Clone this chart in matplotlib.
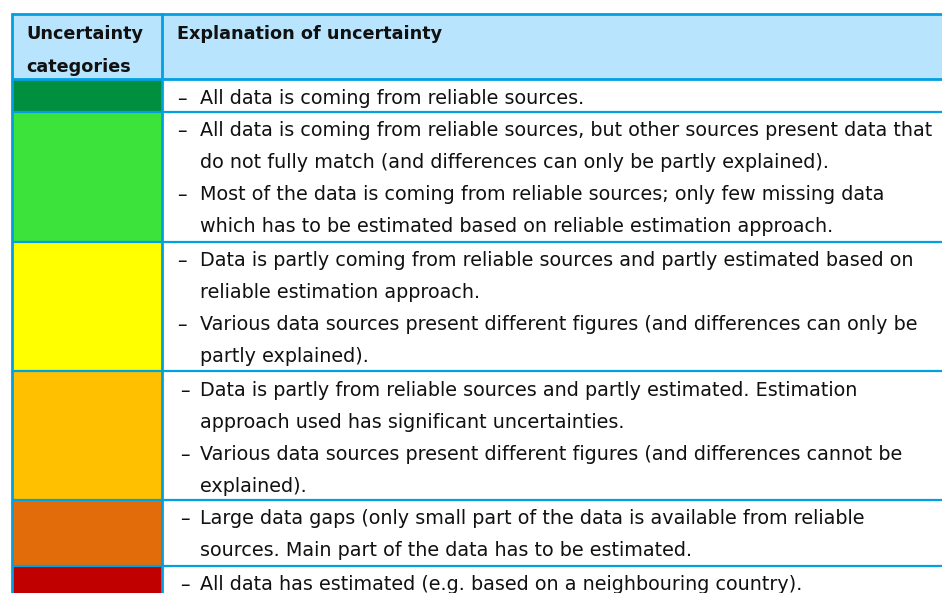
import matplotlib.pyplot as plt
from matplotlib.patches import Rectangle

# table content
header_left = ['Uncertainty', 'categories']
header_right = 'Explanation of uncertainty'

row_colors = ['#008F3E', '#3BE33B', '#FFFF00', '#FFC000', '#E26B0A', '#C00000']

# each row: list of bullets, each bullet is a list of wrapped lines
row_text = [
    [['All data is coming from reliable sources.']],
    [['All data is coming from reliable sources, but other sources present data that',
      'do not fully match (and differences can only be partly explained).'],
     ['Most of the data is coming from reliable sources; only few missing data',
      'which has to be estimated based on reliable estimation approach.']],
    [['Data is partly coming from reliable sources and partly estimated based on',
      'reliable estimation approach.'],
     ['Various data sources present different figures (and differences can only be',
      'partly explained).']],
    [['Data is partly from reliable sources and partly estimated. Estimation',
      'approach used has significant uncertainties.'],
     ['Various data sources present different figures (and differences cannot be',
      'explained).']],
    [['Large data gaps (only small part of the data is available from reliable',
      'sources. Main part of the data has to be estimated.']],
    [['All data has estimated (e.g. based on a neighbouring country).']],
]

# layout in pixels
row_edges = [14, 79, 112, 242, 371, 500, 566, 640]
x_left, x_mid, x_right = 12, 162, 960
line_gap = 32
first_line = 19
border = '#00A0E3'
header_bg = '#B8E4FD'
txt = '#111111'
fs = 13.8

plt.rcParams['font.family'] = ['DejaVu Sans']

fig = plt.figure(figsize=(9.42, 5.93), dpi=100)
ax = fig.add_axes([0, 0, 1, 1])
ax.set_xlim(0, 942)
ax.set_ylim(593, 0)
ax.axis('off')

# header
ax.add_patch(Rectangle((x_left, row_edges[0]), x_right - x_left, row_edges[1] - row_edges[0],
                       facecolor=header_bg, edgecolor='none'))
for i, t in enumerate(header_left):
    ax.text(26, 34 + i * 33, t, fontsize=12.7, fontweight='bold', va='center', color=txt)
ax.text(177, 34, header_right, fontsize=12.7, fontweight='bold', va='center', color=txt)

# body rows
for i, (col, bullets) in enumerate(zip(row_colors, row_text)):
    top, bottom = row_edges[i + 1], row_edges[i + 2]
    ax.add_patch(Rectangle((x_left, top), x_mid - x_left, bottom - top,
                           facecolor=col, edgecolor='none'))
    dash_x = 177 if i < 3 else 180
    y = top + first_line
    for lines in bullets:
        ax.text(dash_x, y + 1, '\u2013', fontsize=fs, va='center', color=txt)
        for ln in lines:
            ax.text(200, y, ln, fontsize=fs, va='center', color=txt)
            y += line_gap

# grid lines
for k, y in enumerate(row_edges[:-1]):
    lw = 2.0 if k < 2 else 1.6
    ax.plot([x_left, x_right], [y, y], color=border, lw=lw, solid_capstyle='butt')
ax.plot([x_left, x_left], [row_edges[0], row_edges[-1]], color=border, lw=2.0)
ax.plot([x_mid, x_mid], [row_edges[0], row_edges[-1]], color=border, lw=2.0)

fig.savefig('out.png', dpi=100)
